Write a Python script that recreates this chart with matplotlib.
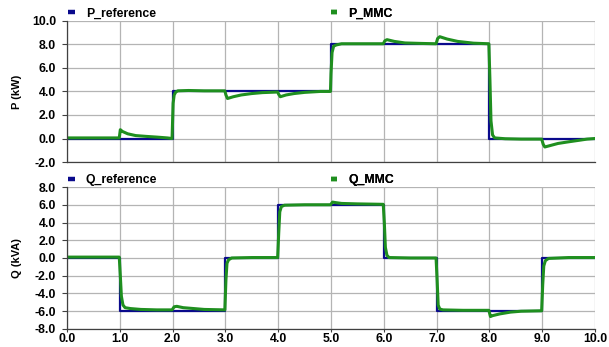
import matplotlib
matplotlib.use("Agg")
import matplotlib.pyplot as plt
from matplotlib.lines import Line2D

plt.rcParams['font.family'] = ['Liberation Sans', 'DejaVu Sans']
plt.rcParams['font.weight'] = 'bold'

# Reference step series (time of step start, value)
p_ref_t = [0.0, 1.0, 2.0, 5.0, 8.0, 10.0]
p_ref_v = [0.0, 0.0, 4.0, 8.0, 0.0, 0.0]
q_ref_t = [0.0, 1.0, 3.0, 4.0, 6.0, 7.0, 9.0, 10.0]
q_ref_v = [0.0, -6.0, 0.0, 6.0, 0.0, -6.0, 0.0, 0.0]

p_mmc_t = [0.0, 0.3, 0.6, 0.99, 1.01, 1.05, 1.15, 1.3, 1.5, 1.7, 1.9, 1.99,
           2.01, 2.03, 2.06, 2.1, 2.3, 2.6, 2.99,
           3.01, 3.04, 3.15, 3.3, 3.5, 3.7, 3.99,
           4.01, 4.04, 4.15, 4.3, 4.5, 4.8, 4.99,
           5.0, 5.02, 5.05, 5.1, 5.2, 5.5, 5.99,
           6.02, 6.06, 6.2, 6.4, 6.7, 6.99,
           7.02, 7.06, 7.2, 7.4, 7.7, 7.99,
           8.01, 8.03, 8.06, 8.1, 8.3, 8.6, 8.99,
           9.02, 9.05, 9.15, 9.3, 9.5, 9.7, 9.85, 10.0]
p_mmc_v = [0.05, 0.05, 0.05, 0.05, 0.75, 0.6, 0.4, 0.25, 0.18, 0.12, 0.05, 0.0,
           3.0, 3.7, 3.95, 4.05, 4.08, 4.05, 4.05,
           3.7, 3.4, 3.55, 3.7, 3.82, 3.9, 3.95,
           3.75, 3.55, 3.7, 3.82, 3.92, 4.0, 4.0,
           5.5, 7.3, 7.85, 7.95, 8.05, 8.05, 8.05,
           8.3, 8.4, 8.25, 8.12, 8.08, 8.05,
           8.5, 8.65, 8.45, 8.25, 8.1, 8.05,
           5.0, 1.5, 0.3, 0.05, -0.02, -0.05, -0.05,
           -0.5, -0.72, -0.6, -0.42, -0.28, -0.15, -0.05, 0.0]

q_mmc_t = [0.0, 0.5, 0.99, 1.01, 1.03, 1.06, 1.1, 1.2, 1.4, 1.7, 1.99,
           2.03, 2.08, 2.2, 2.4, 2.6, 2.99,
           3.01, 3.03, 3.06, 3.12, 3.5, 3.99,
           4.01, 4.03, 4.06, 4.12, 4.5, 4.99,
           5.03, 5.08, 5.2, 5.5, 5.99,
           6.01, 6.03, 6.06, 6.1, 6.5, 6.99,
           7.01, 7.03, 7.06, 7.12, 7.5, 7.99,
           8.02, 8.06, 8.2, 8.4, 8.6, 8.99,
           9.01, 9.03, 9.06, 9.12, 9.5, 10.0]
q_mmc_v = [0.1, 0.1, 0.1, -2.0, -4.3, -5.3, -5.6, -5.7, -5.8, -5.85, -5.85,
           -5.5, -5.45, -5.6, -5.7, -5.8, -5.85,
           -2.5, -0.6, -0.2, 0.0, 0.05, 0.05,
           2.8, 5.2, 5.8, 5.95, 6.0, 6.0,
           6.3, 6.25, 6.15, 6.1, 6.05,
           4.0, 1.2, 0.3, 0.05, 0.0, 0.0,
           -2.5, -5.3, -5.75, -5.85, -5.9, -5.9,
           -6.6, -6.5, -6.3, -6.1, -6.0, -5.95,
           -3.0, -0.9, -0.3, -0.05, 0.05, 0.05]

x_ticks = [0.0, 1.0, 2.0, 3.0, 4.0, 5.0, 6.0, 7.0, 8.0, 9.0, 10.0]
p_ticks = [-2.0, 0.0, 2.0, 4.0, 6.0, 8.0, 10.0]
q_ticks = [-8.0, -6.0, -4.0, -2.0, 0.0, 2.0, 4.0, 6.0, 8.0]

BLUE = '#0a0a8c'
GREEN = '#1f8f1f'
FS = 8.8

fig = plt.figure(figsize=(6.09, 3.47), dpi=100)
ax1 = fig.add_axes([0.110, 0.533, 0.867, 0.407])
ax2 = fig.add_axes([0.110, 0.052, 0.867, 0.409])

def style(ax, yticks, ylabel, show_x):
    ax.set_xlim(0, 10)
    ax.set_ylim(yticks[0], yticks[-1])
    ax.set_xticks(x_ticks)
    ax.set_yticks(yticks)
    ax.set_yticklabels([f"{v:.1f}" for v in yticks])
    if show_x:
        ax.set_xticklabels([f"{v:.1f}" for v in x_ticks])
    else:
        ax.set_xticklabels([])
    ax.grid(True, color='#b4b4b4', linewidth=0.9)
    ax.set_axisbelow(True)
    for s in ['top', 'right']:
        ax.spines[s].set_visible(False)
    for s in ['left', 'bottom']:
        ax.spines[s].set_color('#404040')
        ax.spines[s].set_linewidth(0.9)
    ax.tick_params(axis='y', labelsize=FS, length=3.5, width=0.8, color='#404040', pad=4.5)
    ax.tick_params(axis='x', labelsize=FS, length=2, width=0.8, color='#404040', pad=1)
    if not show_x:
        ax.tick_params(axis='x', length=0)
    ax.set_ylabel(ylabel, fontsize=8, fontweight='bold')
    ax.yaxis.set_label_coords(-0.085, 0.5)

ax1.plot(p_ref_t, p_ref_v, drawstyle='steps-post', color=BLUE, lw=1.6, label='P_reference')
ax1.plot(p_mmc_t, p_mmc_v, color=GREEN, lw=2.2, label='P_MMC')
style(ax1, p_ticks, 'P (kW)', False)

ax2.plot(q_ref_t, q_ref_v, drawstyle='steps-post', color=BLUE, lw=1.6, label='Q_reference')
ax2.plot(q_mmc_t, q_mmc_v, color=GREEN, lw=2.2, label='Q_MMC')
style(ax2, q_ticks, 'Q (kVA)', True)

def legends(ax, names, colors, y):
    xs = [0.0, 0.497]
    for name, c, x in zip(names, colors, xs):
        h = Line2D([], [], color=c, lw=3.2, solid_capstyle='butt')
        lg = ax.legend([h], [name], loc='lower left', bbox_to_anchor=(x, y),
                       frameon=False, fontsize=FS, handlelength=0.55,
                       handletextpad=0.9, borderaxespad=0, borderpad=0.1)
        ax.add_artist(lg)

legends(ax1, ['P_reference', 'P_MMC'], [BLUE, GREEN], 1.0)
legends(ax2, ['Q_reference', 'Q_MMC'], [BLUE, GREEN], 1.0)

fig.savefig('out.png', dpi=100)
